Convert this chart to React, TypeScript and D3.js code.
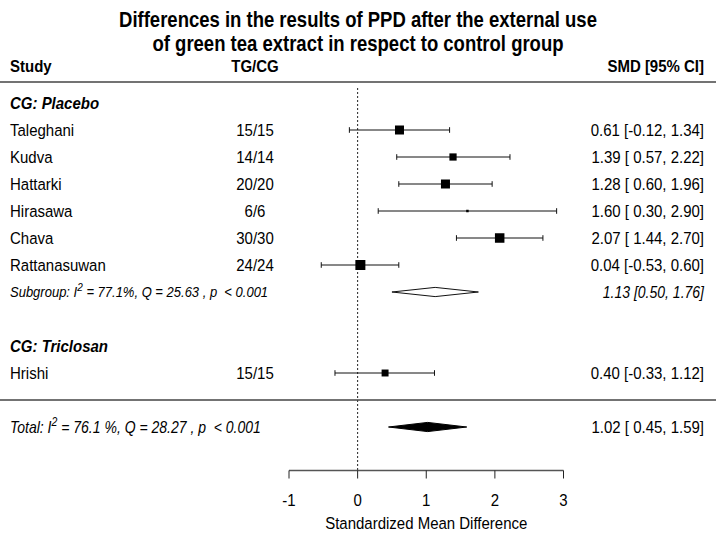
import React from "react";
import * as d3 from "d3";

const titleLines = [
  "Differences in the results of PPD after the external use",
  "of green tea extract in respect to control group",
];
const studyNames = ["Taleghani", "Kudva", "Hattarki", "Hirasawa", "Chava", "Rattanasuwan", "Hrishi"];
const studyGroups = ["Placebo", "Placebo", "Placebo", "Placebo", "Placebo", "Placebo", "Triclosan"];
const sampleSizes = ["15/15", "14/14", "20/20", "6/6", "30/30", "24/24", "15/15"];
const smdValues = [0.61, 1.39, 1.28, 1.6, 2.07, 0.04, 0.4];
const ciLower = [-0.12, 0.57, 0.6, 0.3, 1.44, -0.53, -0.33];
const ciUpper = [1.34, 2.22, 1.96, 2.9, 2.7, 0.6, 1.12];
const studyWeights = [16.2, 13.0, 16.2, 4.5, 17.1, 18.0, 12.5];

const groupNames = ["Placebo", "Triclosan"];
const subgroupEstimate = [1.13, 0.5, 1.76];
const subgroupStats = { i2: "77.1%", q: "25.63", p: "0.001" };
const totalEstimate = [1.02, 0.45, 1.59];
const totalStats = { i2: "76.1 %", q: "28.27", p: "0.001" };
const xTicks = [-1, 0, 1, 2, 3];
const xLabel = "Standardized Mean Difference";

const W = 716;
const H = 533;
const FONT = "'Liberation Sans', Arial, Helvetica, sans-serif";
const SX = 0.87;
const f2 = (v: number) => v.toFixed(2);
const ciText = (est: number, lo: number, hi: number, pad: boolean) => {
  const l = f2(lo);
  const lp = pad && lo >= 0 ? " " + l : l;
  return `${f2(est)} [${lp}, ${f2(hi)}]`;
};

type TProps = {
  x: number;
  y: number;
  size: number;
  anchor?: "start" | "middle" | "end";
  bold?: boolean;
  italic?: boolean;
  children: React.ReactNode;
};
function Txt({ x, y, size, anchor = "start", bold, italic, children }: TProps) {
  return (
    <text
      transform={`translate(${x},${y}) scale(${SX},1)`}
      textAnchor={anchor}
      dominantBaseline="central"
      fontSize={size / SX}
      fontWeight={bold ? "bold" : "normal"}
      fontStyle={italic ? "italic" : "normal"}
      fill="#000"
      style={{ whiteSpace: "pre" }}
    >
      {children}
    </text>
  );
}

export default function App() {
  const x = d3.scaleLinear().domain([-1, 3]).range([289, 563.5]);
  const y = d3.scaleLinear().domain([0, 12]).range([103, 427]);
  const size = d3.scaleLinear().domain([0, d3.max(studyWeights) as number]).range([0, 10]);

  const placeboIdx = studyNames.map((_, i) => i).filter((i) => studyGroups[i] === groupNames[0]);
  const tricIdx = studyNames.map((_, i) => i).filter((i) => studyGroups[i] === groupNames[1]);
  const rowOf: number[] = [];
  placeboIdx.forEach((i, k) => (rowOf[i] = 1 + k));
  const subRow = 1 + placeboIdx.length;
  const tricHeaderRow = subRow + 2;
  tricIdx.forEach((i, k) => (rowOf[i] = tricHeaderRow + 1 + k));
  const sepRow = tricHeaderRow + 1 + tricIdx.length;
  const totalRow = sepRow + 1;

  const diamond = (est: number[], cy: number) => {
    const h = 4.6;
    return `M${x(est[1])},${cy} L${x(est[0])},${cy - h} L${x(est[2])},${cy} L${x(est[0])},${cy + h} Z`;
  };

  const axisY = 470.5;

  return (
    <svg width={W} height={H} style={{ position: "absolute", left: 0, top: 0, background: "#fff" }} fontFamily={FONT}>
      <rect x={0} y={0} width={W} height={H} fill="#fff" />
      {titleLines.map((t, i) => (
        <Txt key={i} x={358} y={20 + i * 24} size={18.5} anchor="middle" bold>
          {t}
        </Txt>
      ))}

      <Txt x={10} y={66} size={15} bold>Study</Txt>
      <Txt x={255} y={66} size={15} anchor="middle" bold>TG/CG</Txt>
      <Txt x={704} y={66} size={15} anchor="end" bold>SMD [95% CI]</Txt>
      <line x1={0} x2={W} y1={82} y2={82} stroke="#444" strokeWidth={1.3} />

      <line x1={x(0)} x2={x(0)} y1={88} y2={axisY} stroke="#222" strokeWidth={1} strokeDasharray="2,2" />

      <Txt x={10} y={y(0)} size={15} bold italic>{`CG: ${groupNames[0]}`}</Txt>
      <Txt x={10} y={y(tricHeaderRow)} size={15} bold italic>{`CG: ${groupNames[1]}`}</Txt>

      {studyNames.map((name, i) => {
        const cy = y(rowOf[i]);
        const s = size(studyWeights[i]);
        return (
          <g key={name}>
            <Txt x={10} y={cy} size={15}>{name}</Txt>
            <Txt x={255} y={cy} size={15} anchor="middle">{sampleSizes[i]}</Txt>
            <line x1={x(ciLower[i])} x2={x(ciUpper[i])} y1={cy} y2={cy} stroke="#111" strokeWidth={1} />
            <line x1={x(ciLower[i])} x2={x(ciLower[i])} y1={cy - 2.8} y2={cy + 2.8} stroke="#111" strokeWidth={1} />
            <line x1={x(ciUpper[i])} x2={x(ciUpper[i])} y1={cy - 2.8} y2={cy + 2.8} stroke="#111" strokeWidth={1} />
            <rect x={x(smdValues[i]) - s / 2} y={cy - s / 2} width={s} height={s} fill="#000" />
            <Txt x={704} y={cy} size={15} anchor="end">
              {ciText(smdValues[i], ciLower[i], ciUpper[i], true)}
            </Txt>
          </g>
        );
      })}

      <Txt x={10} y={y(subRow)} size={13} italic>
        <tspan>Subgroup: I</tspan>
        <tspan fontSize={10 / SX} dy={-5}>2</tspan>
        <tspan dy={5}>{` = ${subgroupStats.i2}, Q = ${subgroupStats.q} , p  < ${subgroupStats.p}`}</tspan>
      </Txt>
      <path d={diamond(subgroupEstimate, y(subRow))} fill="#fff" stroke="#111" strokeWidth={1} />
      <Txt x={704} y={y(subRow)} size={14} anchor="end" italic>
        {ciText(subgroupEstimate[0], subgroupEstimate[1], subgroupEstimate[2], false)}
      </Txt>

      <line x1={0} x2={W} y1={y(sepRow)} y2={y(sepRow)} stroke="#444" strokeWidth={1.3} />

      <Txt x={10} y={y(totalRow)} size={14} italic>
        <tspan>Total: I</tspan>
        <tspan fontSize={10.5 / SX} dy={-5.5}>2</tspan>
        <tspan dy={5.5}>{` = ${totalStats.i2}, Q = ${totalStats.q} , p  < ${totalStats.p}`}</tspan>
      </Txt>
      <path d={diamond(totalEstimate, y(totalRow))} fill="#000" stroke="#000" strokeWidth={1} />
      <Txt x={704} y={y(totalRow)} size={15} anchor="end">
        {ciText(totalEstimate[0], totalEstimate[1], totalEstimate[2], true)}
      </Txt>

      <line x1={x(xTicks[0])} x2={x(xTicks[xTicks.length - 1])} y1={axisY} y2={axisY} stroke="#555" strokeWidth={1.3} />
      {xTicks.map((t) => (
        <g key={t}>
          <line x1={x(t)} x2={x(t)} y1={axisY} y2={axisY + 8} stroke="#222" strokeWidth={1} />
          <Txt x={x(t)} y={500} size={15} anchor="middle">{String(t)}</Txt>
        </g>
      ))}
      <Txt x={x(1)} y={523} size={15} anchor="middle">{xLabel}</Txt>
    </svg>
  );
}
